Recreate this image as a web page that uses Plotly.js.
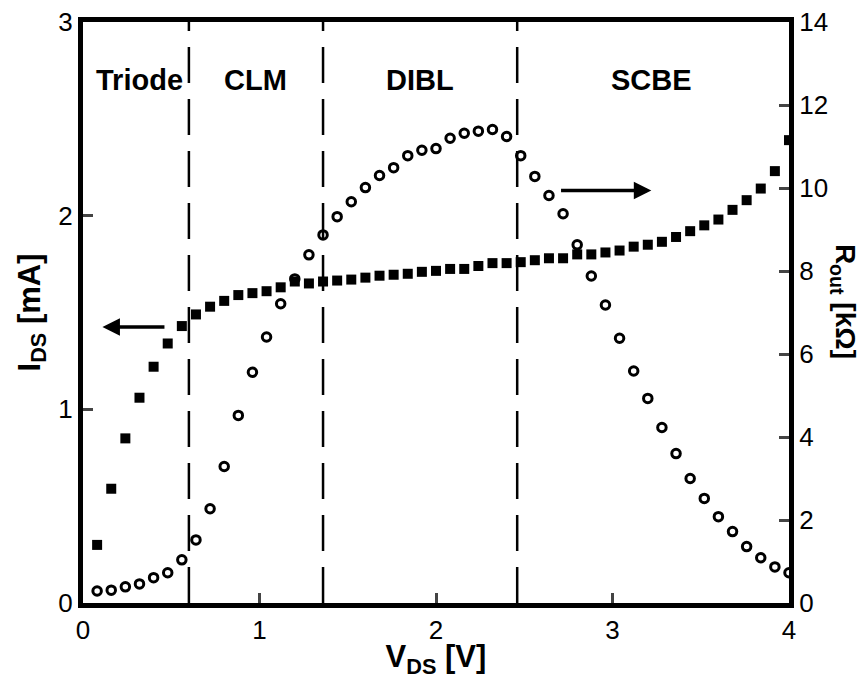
<!DOCTYPE html>
<html>
<head>
<meta charset="utf-8">
<script src="https://cdn.plot.ly/plotly-3.0.1.min.js"></script>
<style>html,body{margin:0;padding:0;background:#fff;}#chart{width:861px;height:679px;}</style>
</head>
<body>
<div id="chart"></div>
<script>
const vds = [0.08,0.16,0.24,0.32,0.40,0.48,0.56,0.64,0.72,0.80,
             0.88,0.96,1.04,1.12,1.20,1.28,1.36,1.44,1.52,1.60,
             1.68,1.76,1.84,1.92,2.00,2.08,2.16,2.24,2.32,2.40,
             2.48,2.56,2.64,2.72,2.80,2.88,2.96,3.04,3.12,3.20,
             3.28,3.36,3.44,3.52,3.60,3.68,3.76,3.84,3.92,4.00];
const ids = [0.30,0.59,0.85,1.06,1.22,1.34,1.43,1.49,1.53,1.56,
             1.59,1.60,1.61,1.63,1.66,1.65,1.66,1.665,1.67,1.68,
             1.69,1.695,1.70,1.71,1.715,1.725,1.725,1.74,1.755,1.755,
             1.76,1.77,1.78,1.78,1.80,1.80,1.81,1.82,1.84,1.85,
             1.865,1.89,1.92,1.95,1.98,2.03,2.08,2.14,2.23,2.39];
const rout = [0.29,0.31,0.39,0.46,0.61,0.73,1.04,1.52,2.27,3.29,
              4.52,5.56,6.41,7.21,7.81,8.39,8.87,9.31,9.67,10.01,
              10.30,10.49,10.78,10.91,10.95,11.20,11.32,11.37,11.41,11.24,
              10.78,10.28,9.82,9.38,8.63,7.88,7.18,6.38,5.59,4.93,
              4.23,3.60,3.00,2.52,2.08,1.72,1.36,1.09,0.87,0.73];
const boundaries = [0.60, 1.36, 2.46];
const regionNames = ["Triode", "CLM", "DIBL", "SCBE"];
const regionX = [0.32, 0.975, 1.91, 3.22];
const xTicks = [0, 1, 2, 3, 4];
const yTicks = [0, 1, 2, 3];
const y2Ticks = [0, 2, 4, 6, 8, 10, 12, 14];

const FONT = "Liberation Sans, Arial, sans-serif";

const traces = [
  {x: vds, y: ids, type: "scatter", mode: "markers", yaxis: "y",
   marker: {symbol: "square", size: 10, color: "#000"}},
  {x: vds, y: rout, type: "scatter", mode: "markers", yaxis: "y2",
   marker: {symbol: "circle-open", size: 8.5, color: "#000", line: {width: 3, color: "#000"}}}
];

const shapes = boundaries.map(b => ({
  type: "line", xref: "x", yref: "paper", x0: b, x1: b, y0: 0, y1: 1,
  line: {color: "#000", width: 2.5, dash: "36px,16px"}
}));

const annotations = regionNames.map((t, i) => ({
  x: regionX[i], y: 2.70, xref: "x", yref: "y", text: "<b>" + t + "</b>", showarrow: false,
  font: {family: FONT, size: 29, color: "#000"}
}));
annotations.push({
  x: 0.11, y: 1.425, ax: 0.47, ay: 1.425, xref: "x", yref: "y", axref: "x", ayref: "y",
  text: "", showarrow: true, arrowhead: 2, arrowsize: 1, arrowwidth: 3.5, arrowcolor: "#000"
});
annotations.push({
  x: 3.22, y: 2.13, ax: 2.70, ay: 2.13, xref: "x", yref: "y", axref: "x", ayref: "y",
  text: "", showarrow: true, arrowhead: 2, arrowsize: 1, arrowwidth: 3.5, arrowcolor: "#000"
});
annotations.push({
  x: 1.0, y: 0.52, xref: "paper", yref: "paper", xanchor: "center", yanchor: "middle",
  xshift: 54, text: "<b>R<sub>out</sub> [kΩ]</b>",
  showarrow: false, textangle: 90, font: {family: FONT, size: 28, color: "#000"}
});

const layout = {
  width: 861, height: 679,
  margin: {l: 83, r: 72, t: 22, b: 76},
  paper_bgcolor: "#fff", plot_bgcolor: "#fff",
  showlegend: false,
  font: {family: FONT, size: 22, color: "#000"},
  xaxis: {range: [0, 4], tickvals: xTicks, ticks: "inside", ticklen: 10, tickwidth: 3,
          showline: true, linewidth: 5, linecolor: "#000", mirror: true, showgrid: false,
          zeroline: false, tickfont: {size: 26},
          title: {text: "<b>V<sub>DS</sub> [V]</b>", font: {size: 31}, standoff: 2}},
  yaxis: {range: [0, 3], tickvals: yTicks, ticks: "inside", ticklen: 10, tickwidth: 3,
          showline: true, linewidth: 5, linecolor: "#000", showgrid: false, zeroline: false,
          tickfont: {size: 26},
          title: {text: "<b>I<sub>DS</sub> [mA]</b>", font: {size: 31}, standoff: 10}},
  yaxis2: {range: [0, 14], tickvals: y2Ticks, overlaying: "y", side: "right",
           ticks: "inside", ticklen: 10, tickwidth: 3,
           showline: true, linewidth: 5, linecolor: "#000", showgrid: false, zeroline: false,
           tickfont: {size: 26}},
  shapes: shapes,
  annotations: annotations
};

Plotly.newPlot("chart", traces, layout, {displayModeBar: false, staticPlot: true});
</script>
</body>
</html>
